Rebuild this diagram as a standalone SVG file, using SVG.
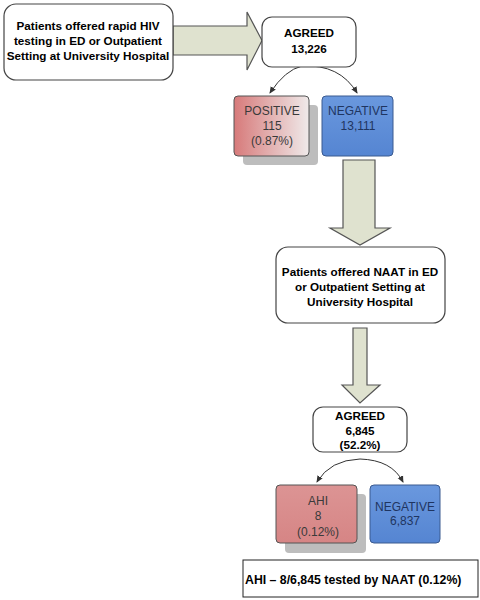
<svg xmlns="http://www.w3.org/2000/svg" width="480" height="600" viewBox="0 0 480 600">
<style>
.box{fill:#fff;stroke:#444;stroke-width:1.2}
.bt{font-family:"Liberation Sans",Arial,sans-serif;font-weight:bold;font-size:11.7px;fill:#000;text-anchor:middle}
.ct{font-family:"Liberation Sans",Arial,sans-serif;font-size:12px;text-anchor:middle}
.arr{fill:#dfe2cf;stroke:#555;stroke-width:1.2}
.con{fill:none;stroke:#333;stroke-width:1}
.sh{fill:#bdbdbd}
</style>
<defs>
<linearGradient id="gp" x1="0" y1="0" x2="1" y2="0"><stop offset="0" stop-color="#d77a7a"/><stop offset="1" stop-color="#efeaea"/></linearGradient>
<linearGradient id="gn" x1="0" y1="0" x2="0" y2="1"><stop offset="0" stop-color="#6a98de"/><stop offset="1" stop-color="#5585d2"/></linearGradient>
<linearGradient id="ga" x1="0" y1="0" x2="0" y2="1"><stop offset="0" stop-color="#dc9494"/><stop offset="1" stop-color="#d68585"/></linearGradient>
<marker id="ah" markerWidth="8" markerHeight="8" refX="6" refY="4" orient="auto" markerUnits="userSpaceOnUse"><path d="M0,1 L7,4 L0,7 Z" fill="#333"/></marker>
</defs>

<g id="connectors">
<path class="arr" d="M173,26 H247 V12 L262,40.5 L247,70 V55 H173 Z"/>
<path class="arr" d="M343,160 H375 V228 H390 L360,245 L330,228 H343 Z"/>
<path class="arr" d="M353,328 H367 V385 H380 L360,403 L342,385 H353 Z"/>
<path class="con" d="M302,66 Q285,70 270,93" marker-end="url(#ah)"/>
<path class="con" d="M302,66 Q340,64 357,93" marker-end="url(#ah)"/>
<path class="con" d="M360,459 Q330,460 317,482" marker-end="url(#ah)"/>
<path class="con" d="M360,459 Q392,460 403,482" marker-end="url(#ah)"/>
</g>

<g id="offered-rapid">
<rect class="box" x="4" y="4" width="169" height="76" rx="12"/>
<text class="bt" x="88" y="30">Patients offered rapid HIV</text>
<text class="bt" x="88" y="45">testing in ED or Outpatient</text>
<text class="bt" x="88" y="60">Setting at University Hospital</text>
</g>

<g id="agreed1">
<rect class="box" x="262" y="17" width="94" height="50" rx="10"/>
<text class="bt" x="309" y="37">AGREED</text>
<text class="bt" x="309" y="53">13,226</text>
</g>

<g id="positive">
<rect class="sh" x="243" y="105" width="75" height="60" rx="4"/>
<rect x="234" y="96" width="75" height="60" rx="4" fill="url(#gp)" stroke="#555" stroke-width="1"/>
<text class="ct" x="272" y="115" fill="#3a3a3a">POSITIVE</text>
<text class="ct" x="272" y="130" fill="#3a3a3a">115</text>
<text class="ct" x="272" y="145" fill="#3a3a3a">(0.87%)</text>
</g>

<g id="negative1">
<rect x="322" y="96" width="71" height="60" rx="4" fill="url(#gn)" stroke="#3a5a90" stroke-width="1"/>
<text class="ct" x="358" y="115" fill="#1f3560">NEGATIVE</text>
<text class="ct" x="358" y="130" fill="#1f3560">13,111</text>
</g>

<g id="offered-naat">
<rect class="box" x="276" y="247" width="169" height="76" rx="12"/>
<text class="bt" x="360" y="276">Patients offered NAAT in ED</text>
<text class="bt" x="360" y="291">or Outpatient Setting at</text>
<text class="bt" x="360" y="306">University Hospital</text>
</g>

<g id="agreed2">
<rect class="box" x="313" y="407" width="94" height="45" rx="10"/>
<text class="bt" x="360" y="420">AGREED</text>
<text class="bt" x="360" y="435">6,845</text>
<text class="bt" x="360" y="449">(52.2%)</text>
</g>

<g id="ahi">
<rect class="sh" x="285" y="494" width="81" height="59" rx="4"/>
<rect x="276" y="485" width="81" height="58" rx="4" fill="url(#ga)" stroke="#555" stroke-width="1"/>
<text class="ct" x="318" y="505" fill="#3a3a3a">AHI</text>
<text class="ct" x="318" y="520" fill="#3a3a3a">8</text>
<text class="ct" x="318" y="536" fill="#3a3a3a">(0.12%)</text>
</g>

<g id="negative2">
<rect x="370" y="485" width="70" height="58" rx="4" fill="url(#gn)" stroke="#3a5a90" stroke-width="1"/>
<text class="ct" x="405" y="511" fill="#1f3560">NEGATIVE</text>
<text class="ct" x="405" y="525" fill="#1f3560">6,837</text>
</g>

<g id="summary">
<rect x="243" y="560" width="235" height="37" fill="#fff" stroke="#222" stroke-width="1"/>
<text class="bt" x="245" y="584" style="text-anchor:start;font-size:12.3px">AHI – 8/6,845 tested by NAAT (0.12%)</text>
</g>
</svg>
